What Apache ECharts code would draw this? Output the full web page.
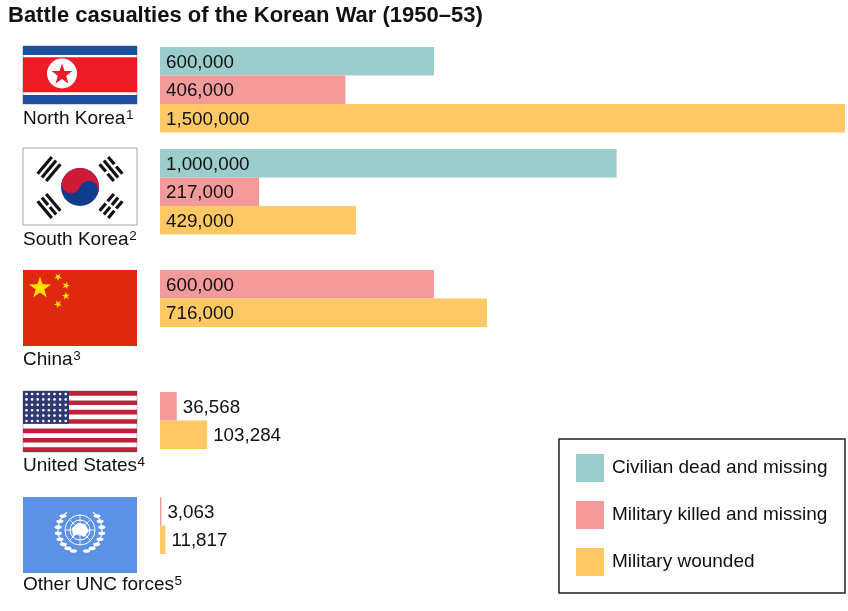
<!DOCTYPE html>
<html>
<head>
<meta charset="utf-8">
<script src="https://cdn.jsdelivr.net/npm/echarts@6/dist/echarts.min.js"></script>
<style>
html,body{margin:0;padding:0;background:#fff;}
#chart{width:848px;height:611px;}
</style>
</head>
<body>
<div id="chart"></div>
<script>
// ---- data ----
const countries = ['North Korea', 'South Korea', 'China', 'United States', 'Other UNC forces'];
const footnotes = ['1', '2', '3', '4', '5'];
const seriesNames = ['Civilian dead and missing', 'Military killed and missing', 'Military wounded'];
const civilianDead = [600000, 1000000, null, null, null];
const militaryKilled = [406000, 217000, 600000, 36568, 3063];
const militaryWounded = [1500000, 429000, 716000, 103284, 11817];
const xMax = 1500000;
const titleText = 'Battle casualties of the Korean War (1950\u201353)';

// ---- layout / style ----
const FONT = '"Liberation Sans", Arial, Helvetica, sans-serif';
const colors = ['#9ccdcd', '#f49a9a', '#fec965'];
const gridLeft = 160, gridWidth = 685, bandH = 28.5;
const gridTops = [47, 149, 270, 392, 497];
const nameY = [119, 240, 360, 466, 585];
const valueSets = [civilianDead, militaryKilled, militaryWounded];

const grids = [], xAxes = [], yAxes = [], series = [];
countries.forEach((c, i) => {
  const present = [0, 1, 2].filter(t => valueSets[t][i] != null);
  grids.push({left: gridLeft, width: gridWidth, top: gridTops[i], height: bandH * present.length, containLabel: false});
  xAxes.push({gridIndex: i, type: 'value', min: 0, max: xMax, show: false});
  yAxes.push({gridIndex: i, type: 'category', inverse: true, show: false, data: present.map(t => seriesNames[t])});
  present.forEach(t => {
    const v = valueSets[t][i];
    const small = v / xMax * gridWidth < 80;
    series.push({
      type: 'bar', name: seriesNames[t], xAxisIndex: i, yAxisIndex: i,
      barGap: '-100%', barCategoryGap: '0%',
      itemStyle: {color: colors[t]},
      label: {
        show: true, position: small ? 'right' : 'insideLeft', distance: 6, offset: [0, 1.5],
        color: '#111', fontSize: 18.8, fontFamily: FONT,
        formatter: p => Number(p.value).toLocaleString('en-US')
      },
      emphasis: {disabled: true},
      data: present.map(tt => tt === t ? v : '-')
    });
  });
});

// ---- flag drawings (decoration) ----
function starPts(cx, cy, R, r, rot) {
  const pts = [];
  for (let k = 0; k < 10; k++) {
    const a = -Math.PI / 2 + (rot || 0) + k * Math.PI / 5;
    const rad = k % 2 ? r : R;
    pts.push([cx + rad * Math.cos(a), cy + rad * Math.sin(a)]);
  }
  return pts;
}
function rect(x, y, w, h, fill, extra) {
  return Object.assign({type: 'rect', shape: {x, y, width: w, height: h}, style: {fill}, silent: true}, extra || {});
}
function poly(points, fill) {
  return {type: 'polygon', shape: {points}, style: {fill}, silent: true};
}
const FX = 23, FW = 114;
const g = [];
// North Korea
(function () {
  const y0 = 46, h = 58;
  g.push(rect(FX, y0, FW, h, '#fff', {style: {fill: '#fff', stroke: '#b0b0b0', lineWidth: 1}}));
  g.push(rect(FX, y0, FW, 9, '#1f4fa0'));
  g.push(rect(FX, y0 + 11.3, FW, 35, '#ed1c27'));
  g.push(rect(FX, y0 + 49, FW, 9, '#1f4fa0'));
  g.push({type: 'circle', shape: {cx: 62, cy: 73.5, r: 15}, style: {fill: '#fff'}, silent: true});
  g.push(poly(starPts(62, 74.5, 11, 4.4), '#ed1c27'));
})();
// South Korea
(function () {
  const y0 = 148, h = 77;
  g.push(rect(FX, y0, FW, h, '#fff', {style: {fill: '#fff', stroke: '#a8a8a8', lineWidth: 1}}));
  const r = 19, cx = 80, cy = 187, phi = 0.35;
  g.push({type: 'circle', shape: {cx, cy, r}, style: {fill: '#0f3d8c'}, silent: true});
  g.push({type: 'sector', shape: {cx, cy, r, r0: 0, startAngle: Math.PI + phi, endAngle: 2 * Math.PI + phi, clockwise: true}, style: {fill: '#cd1a36'}, silent: true});
  g.push({type: 'circle', shape: {cx: cx + r / 2 * Math.cos(Math.PI + phi), cy: cy + r / 2 * Math.sin(Math.PI + phi), r: r / 2}, style: {fill: '#cd1a36'}, silent: true});
  g.push({type: 'circle', shape: {cx: cx + r / 2 * Math.cos(phi), cy: cy + r / 2 * Math.sin(phi), r: r / 2}, style: {fill: '#0f3d8c'}, silent: true});
  // trigram: bars along direction d, stacked along n (screen coordinates)
  function bar(px, py, d, n, a, b, th) {
    const pts = [[a, -th / 2], [b, -th / 2], [b, th / 2], [a, th / 2]].map(([u, v]) => [px + u * d[0] + v * n[0], py + u * d[1] + v * n[1]]);
    g.push(poly(pts, '#111'));
  }
  function trigram(cx0, cy0, slash, pattern) {
    const ang = 0.87;
    const d = slash ? [Math.cos(ang), -Math.sin(ang)] : [Math.cos(ang), Math.sin(ang)];
    const n = [-d[1], d[0]];
    pattern.forEach((solid, j) => {
      const off = (j - 1) * 5.6;
      const px = cx0 + off * n[0], py = cy0 + off * n[1];
      if (solid) bar(px, py, d, n, -11, 11, 3.2);
      else { bar(px, py, d, n, -11, -1.4, 3.2); bar(px, py, d, n, 1.4, 11, 3.2); }
    });
  }
  trigram(49, 169, true, [1, 1, 1]);
  trigram(111, 169, false, [0, 1, 0]);
  trigram(49, 206, false, [1, 0, 1]);
  trigram(111, 206, true, [0, 0, 0]);
})();
// China
(function () {
  const y0 = 270, h = 76;
  g.push(rect(FX, y0, FW, h, '#de2910'));
  g.push(poly(starPts(40, 288, 11.5, 4.5), '#ffde00'));
  [[58, 277, 0.6], [66, 285.5, 0.3], [66, 296, -0.1], [58, 304, -0.5]].forEach(s => g.push(poly(starPts(s[0], s[1], 4, 1.6, s[2]), '#ffde00')));
})();
// United States
(function () {
  const y0 = 391, h = 61, sh = h / 13;
  g.push(rect(FX, y0, FW, h, '#fff', {style: {fill: '#fff', stroke: '#c0c0c0', lineWidth: 1}}));
  for (let k = 0; k < 13; k += 2) g.push(rect(FX, y0 + k * sh, FW, sh, '#c0203a'));
  g.push(rect(FX, y0, 46, sh * 7, '#2f3a73'));
  for (let row = 0; row < 6; row++) for (let col = 0; col < 8; col++)
    g.push({type: 'circle', shape: {cx: FX + 3.5 + col * 5.6, cy: y0 + 3 + row * 5.4, r: 1.3}, style: {fill: '#fff'}, silent: true});
})();
// United Nations
(function () {
  const y0 = 497, h = 76, cx = 80, cy = 530;
  g.push(rect(FX, y0, FW, h, '#5b92e5'));
  [5, 10, 15].forEach(r => g.push({type: 'circle', shape: {cx, cy, r}, style: {fill: 'none', stroke: '#fff', lineWidth: 1}, silent: true}));
  for (let k = 0; k < 8; k++) {
    const a = k * Math.PI / 4;
    g.push({type: 'line', shape: {x1: cx, y1: cy, x2: cx + 15 * Math.cos(a), y2: cy + 15 * Math.sin(a)}, style: {stroke: '#fff', lineWidth: 0.8}, silent: true});
  }
  g.push(poly([[cx - 8, cy - 2], [cx - 2, cy - 7], [cx + 5, cy - 6], [cx + 9, cy + 1], [cx + 4, cy + 7], [cx - 1, cy + 4], [cx - 7, cy + 6]], '#fff'));
  // laurel branches
  for (const side of [-1, 1]) {
    for (let k = 0; k < 8; k++) {
      const a = Math.PI / 2 + side * (0.3 + k * 0.28);
      const lx = cx + 22 * Math.cos(a), ly = cy + 22 * Math.sin(a);
      g.push({type: 'ellipse', shape: {cx: lx, cy: ly, rx: 3.6, ry: 1.8}, style: {fill: '#fff'}, silent: true});
    }
    g.push({type: 'arc', shape: {cx, cy, r: 22, startAngle: side < 0 ? Math.PI * 0.6 : Math.PI * -0.3, endAngle: side < 0 ? Math.PI * 1.3 : Math.PI * 0.4, clockwise: true}, style: {stroke: '#fff', lineWidth: 1.2, fill: 'none'}, silent: true});
  }
})();
// country names with footnote superscripts
countries.forEach((c, i) => {
  g.push({
    type: 'text', x: FX, y: nameY[i], silent: true,
    style: {
      text: '{n|' + c + '}{s|' + footnotes[i] + '}',
      verticalAlign: 'middle', align: 'left',
      rich: {
        n: {fontSize: 19, lineHeight: 22, fontFamily: FONT, fill: '#111'},
        s: {fontSize: 13.5, lineHeight: 13, fontFamily: FONT, fill: '#111', verticalAlign: 'top', padding: [0, 0, 0, 0.5]}
      }
    }
  });
});
// legend box
g.push({type: 'rect', shape: {x: 559, y: 439, width: 286, height: 154}, style: {fill: 'none', stroke: '#222', lineWidth: 1.5}, silent: true});

const chart = echarts.init(document.getElementById('chart'), null, {renderer: 'canvas'});
chart.setOption({
  animation: false,
  backgroundColor: '#fff',
  title: {text: titleText, left: 8, top: 5, padding: 0,
    textStyle: {fontSize: 22, fontWeight: 'bold', color: '#111', fontFamily: FONT}},
  legend: {
    data: seriesNames, orient: 'vertical', left: 576, top: 454, padding: 0,
    itemWidth: 28, itemHeight: 28, itemGap: 19, icon: 'rect', selectedMode: false,
    textStyle: {fontSize: 19, color: '#111', fontFamily: FONT, padding: [0, 0, 0, 3]}
  },
  grid: grids, xAxis: xAxes, yAxis: yAxes, series,
  graphic: {elements: g}
});
</script>
</body>
</html>
